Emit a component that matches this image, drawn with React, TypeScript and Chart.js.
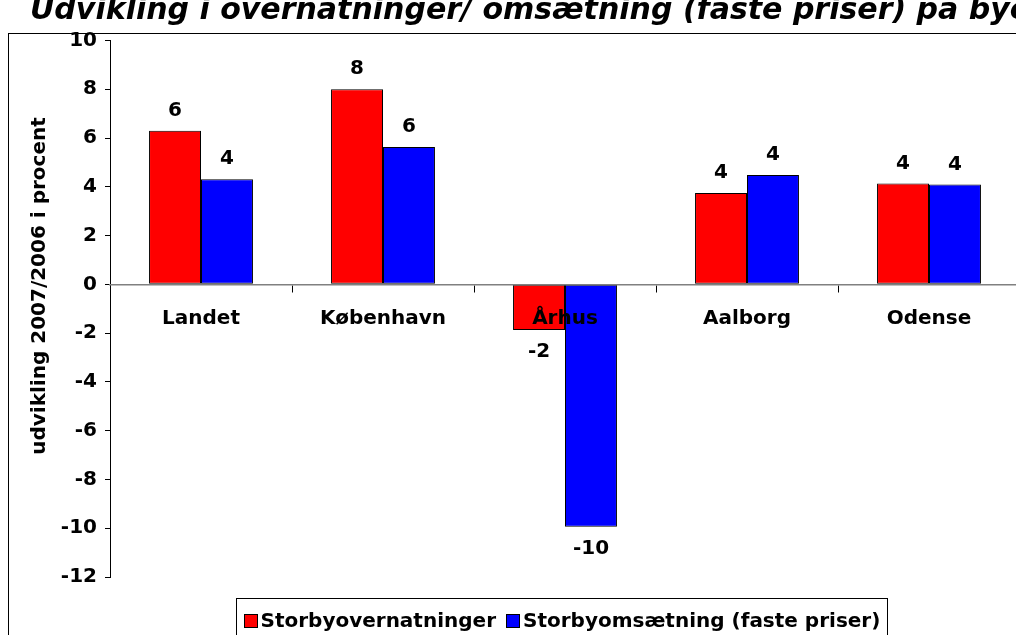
import React, { useEffect, useRef } from "react";
import { Chart, registerables } from "chart.js";

Chart.register(...registerables);

// ---- data ----
const TITLE = "Udvikling i overnatninger/ omsætning (faste priser) på byer";
const Y_TITLE = "udvikling 2007/2006 i procent";
const CATEGORIES = ["Landet", "København", "Århus", "Aalborg", "Odense"];
const OVERNATNINGER = [6.3, 8.0, -1.87, 3.75, 4.14];
const OMSAETNING = [4.31, 5.63, -9.94, 4.48, 4.09];
const SERIES_NAMES = ["Storbyovernatninger", "Storbyomsætning (faste priser)"];
const SERIES_COLORS = ["#FF0000", "#0000FF"];
const Y_MIN = -12;
const Y_MAX = 10;
const Y_STEP = 2;

const FONT = "'DejaVu Sans', Verdana, sans-serif";
const W = 1040;
const H = 660;
const FS = 20;

const framePlugin = {
  id: "frame",
  beforeDraw(chart: any) {
    const ctx = chart.ctx;
    ctx.save();
    ctx.fillStyle = "#fff";
    ctx.fillRect(0, 0, W, H);
    ctx.strokeStyle = "#000";
    ctx.lineWidth = 1;
    ctx.strokeRect(8.5, 33.5, W, H);
    ctx.fillStyle = "#000";
    ctx.font = `italic bold 30px ${FONT}`;
    ctx.textBaseline = "alphabetic";
    ctx.textAlign = "left";
    ctx.fillText(TITLE, 30, 19);
    ctx.restore();
  },
  afterDraw(chart: any) {
    const ctx = chart.ctx;
    ctx.save();
    ctx.fillStyle = "#000";
    ctx.font = `bold ${FS}px ${FONT}`;
    ctx.textAlign = "center";
    ctx.textBaseline = "middle";
    ctx.translate(40, 286);
    ctx.rotate(-Math.PI / 2);
    ctx.fillText(Y_TITLE, 0, 0);
    ctx.restore();
  },
};

const dataLabelPlugin = {
  id: "dataLabels",
  afterDatasetsDraw(chart: any) {
    const ctx = chart.ctx;
    ctx.save();
    ctx.fillStyle = "#000";
    ctx.font = `bold ${FS}px ${FONT}`;
    ctx.textAlign = "center";
    ctx.textBaseline = "middle";
    chart.data.datasets.forEach((ds: any, di: number) => {
      const meta = chart.getDatasetMeta(di);
      meta.data.forEach((el: any, i: number) => {
        const v = ds.data[i];
        const txt = String(Math.round(v));
        const y = v >= 0 ? el.y - 20 : el.y + 22;
        ctx.fillText(txt, el.x, y);
      });
    });
    ctx.restore();
  },
};

const legendPlugin = {
  id: "boxLegend",
  afterDraw(chart: any) {
    const ctx = chart.ctx;
    const area = chart.chartArea;
    ctx.save();
    ctx.font = `bold ${FS}px ${FONT}`;
    const sw = 13;
    const gapSwText = 4;
    const gapItems = 10;
    const widths = SERIES_NAMES.map((n) => ctx.measureText(n).width);
    const content =
      widths.reduce((a, b) => a + b, 0) + SERIES_NAMES.length * (sw + gapSwText) + gapItems * (SERIES_NAMES.length - 1);
    const padX = 7;
    const boxW = Math.round(content + padX * 2);
    const cx = (area.left + area.right) / 2;
    const boxL = Math.round(cx - boxW / 2) - 3.5;
    const boxT = 598.5;
    const boxH = 40;
    ctx.fillStyle = "#fff";
    ctx.fillRect(boxL, boxT, boxW, boxH);
    ctx.strokeStyle = "#000";
    ctx.lineWidth = 1;
    ctx.strokeRect(boxL, boxT, boxW, boxH);
    let x = boxL + padX;
    const cy = 621;
    ctx.textBaseline = "middle";
    ctx.textAlign = "left";
    SERIES_NAMES.forEach((n, i) => {
      ctx.fillStyle = SERIES_COLORS[i];
      ctx.fillRect(Math.round(x) + 0.5, cy - 7 + 0.5, sw, sw);
      ctx.strokeStyle = "#000";
      ctx.strokeRect(Math.round(x) + 0.5, cy - 7 + 0.5, sw, sw);
      x += sw + gapSwText;
      ctx.fillStyle = "#000";
      ctx.fillText(n, x, cy + 1);
      x += widths[i] + gapItems;
    });
    ctx.restore();
  },
};

export default function App() {
  const ref = useRef<HTMLCanvasElement | null>(null);
  useEffect(() => {
    if (!ref.current) return;
    const chart = new Chart(ref.current, {
      type: "bar",
      data: {
        labels: CATEGORIES,
        datasets: [
          {
            label: SERIES_NAMES[0],
            data: OVERNATNINGER,
            backgroundColor: SERIES_COLORS[0],
            borderColor: "#000",
            borderWidth: 1,
            borderSkipped: false,
            categoryPercentage: 0.571,
            barPercentage: 1,
          },
          {
            label: SERIES_NAMES[1],
            data: OMSAETNING,
            backgroundColor: SERIES_COLORS[1],
            borderColor: "#000",
            borderWidth: 1,
            borderSkipped: false,
            categoryPercentage: 0.571,
            barPercentage: 1,
          },
        ],
      },
      options: {
        responsive: false,
        animation: false,
        devicePixelRatio: 1,
        layout: { padding: { left: 0, top: 40.5, right: W - 1020, bottom: H - 577 } },
        plugins: {
          legend: { display: false },
          title: { display: false },
          tooltip: { enabled: false },
        },
        scales: {
          x: {
            type: "category",
            position: { y: 0 } as any,
            offset: true,
            grid: {
              display: true,
              drawOnChartArea: false,
              drawTicks: true,
              tickLength: 7,
              offset: true,
              color: "#000",
              z: 1,
            },
            border: { display: true, color: "#808080", width: 1.5, z: 1 },
            ticks: {
              color: "#000",
              font: { family: FONT, size: FS, weight: "bold" },
              padding: 15,
              maxRotation: 0,
              autoSkip: false,
              z: 2,
            },
          },
          y: {
            min: Y_MIN,
            max: Y_MAX,
            afterFit(scale: any) {
              scale.width = 110;
            },
            ticks: {
              stepSize: Y_STEP,
              color: "#000",
              font: { family: FONT, size: FS, weight: "bold" },
              padding: 8,
            },
            grid: {
              display: true,
              drawOnChartArea: false,
              drawTicks: true,
              tickLength: 5,
              color: "#000",
            },
            border: { display: true, color: "#000", width: 1 },
            title: { display: false },
          },
        },
      },
      plugins: [framePlugin, dataLabelPlugin, legendPlugin],
    });
    return () => chart.destroy();
  }, []);

  return (
    <div
      style={{
        position: "fixed",
        left: 0,
        top: 0,
        width: 1016,
        height: 635,
        overflow: "hidden",
        background: "#fff",
      }}
    >
      <canvas ref={ref} width={W} height={H} style={{ width: W, height: H, display: "block" }} />
    </div>
  );
}
